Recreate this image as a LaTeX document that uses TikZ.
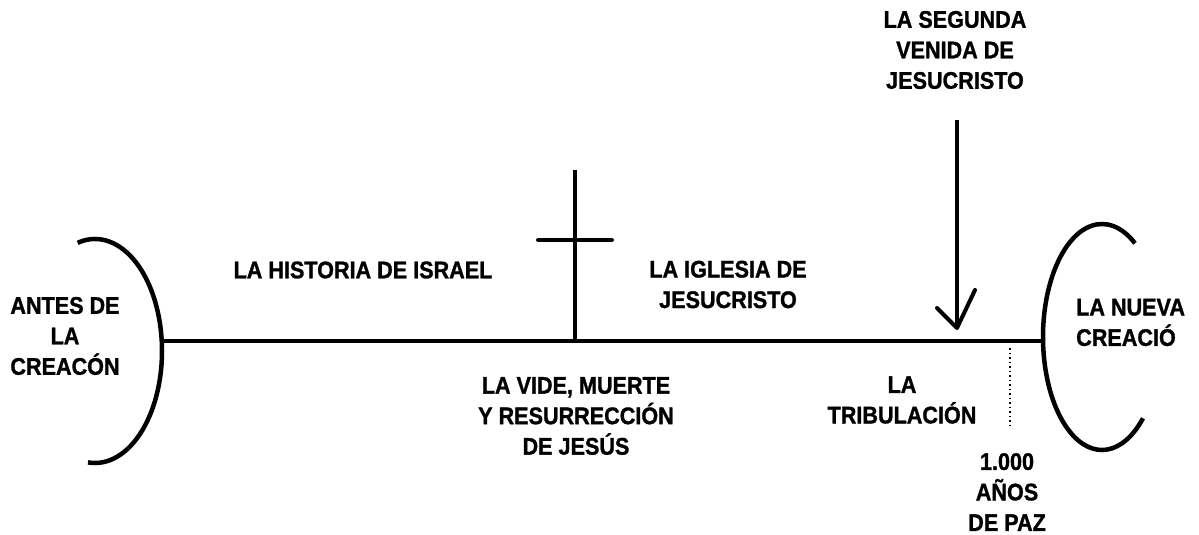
\documentclass[tikz,border=0pt]{standalone}
\usepackage{fontspec}
\setmainfont{Liberation Sans}[FakeStretch=0.9, BoldFeatures={FakeBold=1.2}]
\usetikzlibrary{calc}
\tikzset{
  lbl/.style={font=\fontsize{24}{30.5}\selectfont\bfseries, align=center, inner sep=0pt},
  heavy/.style={line width=4pt},
  arcline/.style={line width=4.5pt},
  dotline/.style={line width=1.4pt, dash pattern=on 1.5pt off 3pt},
}
\begin{document}
\begin{tikzpicture}[x=1pt,y=1pt]
\useasboundingbox (0,0) rectangle (1199,-535);
% timeline
\coordinate (L) at (162,-341);
\coordinate (R) at (1043,-341);
\draw[heavy] (L) -- (R);
% left arc
\coordinate (LAc) at (95,-351);
\draw[arcline] ($(LAc)+(105:67 and 112)$) arc[start angle=105, end angle=-96, x radius=67, y radius=112];
% right arc
\coordinate (RAc) at (1102,-337);
\draw[arcline] ($(RAc)+(56:59 and 113)$) arc[start angle=56, end angle=314, x radius=59, y radius=113];
% cross
\coordinate (CrTop) at (575,-170);
\coordinate (CrBot) at (575,-343);
\coordinate (CrL) at (538,-240);
\coordinate (CrR) at (612,-240);
\draw[heavy] (CrTop) -- (CrBot);
\draw[heavy, line cap=round] (CrL) -- (CrR);
% arrow of the second coming
\coordinate (ArTop) at (957,-120);
\coordinate (ArTip) at (957,-328);
\coordinate (ArL) at (937,-308);
\coordinate (ArR) at (975,-290);
\draw[heavy] (ArTop) -- (ArTip);
\draw[heavy, line cap=round, line join=round] (ArL) -- (ArTip) -- (ArR);
% dotted millennium marker
\coordinate (DtTop) at (1010,-348);
\coordinate (DtBot) at (1010,-427);
\draw[dotline] (DtTop) -- (DtBot);
% labels
\node[lbl] (segunda) at (955,-50) {LA SEGUNDA\\VENIDA DE\\JESUCRISTO};
\node[lbl] (israel) at (363,-270) {LA HISTORIA DE ISRAEL};
\node[lbl] (iglesia) at (728,-284.5) {LA IGLESIA DE\\JESUCRISTO};
\node[lbl] (antes) at (65,-336) {ANTES DE\\LA\\CREACÓN};
\node[lbl, align=left, anchor=west] (nueva) at (1076,-322.5) {LA NUEVA\\CREACIÓ};
\node[lbl] (vida) at (576,-416) {LA VIDE, MUERTE\\Y RESURRECCIÓN\\DE JESÚS};
\node[lbl] (trib) at (902,-400) {LA\\TRIBULACIÓN};
\node[lbl] (mil) at (1007,-492) {1.000\\AÑOS\\DE PAZ};
\end{tikzpicture}
\end{document}
